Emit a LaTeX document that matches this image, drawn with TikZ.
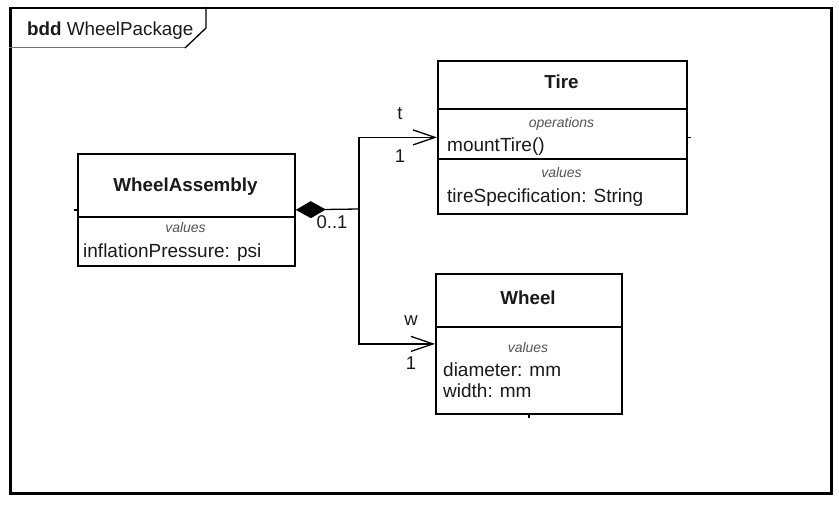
\documentclass[tikz,border=0pt]{standalone}
\usepackage{fontspec}
\setmainfont{Liberation Sans}
\usetikzlibrary{arrows.meta}
\definecolor{txt}{HTML}{1A1A1A}
\definecolor{stereo}{HTML}{555555}
\tikzset{
  blockbox/.style={draw=black, line width=1.8pt, fill=white, inner sep=0pt, anchor=north west},
  divline/.style={line width=1.6pt},
  titletext/.style={anchor=base, inner sep=0pt, text=txt, font=\fontsize{18.8}{22}\selectfont\bfseries},
  bodytext/.style={anchor=base west, inner sep=0pt, text=txt, font=\fontsize{19}{22}\selectfont},
  stereotext/.style={anchor=base, inner sep=0pt, text=stereo, font=\fontsize{14}{16}\selectfont\itshape},
  roletext/.style={anchor=base, inner sep=0pt, text=txt, font=\fontsize{18.5}{22}\selectfont},
  conn/.style={line width=1.3pt, draw=black},
  tick/.style={line width=1.5pt},
}
\begin{document}
\begin{tikzpicture}[x=1pt,y=-1pt]
\useasboundingbox (0,0) rectangle (839,505);
% frame
\node[draw=black, line width=2.5pt, inner sep=0pt, anchor=north west, minimum width=821pt, minimum height=485pt] (frame) at (9,7) {};
\coordinate (tabA) at (9,48);
\coordinate (tabB) at (185,48);
\coordinate (tabC) at (206,28);
\coordinate (tabD) at (206,7);
\draw[line width=1pt, draw=black!55] (tabA) -- (tabB);
\draw[line width=1.3pt] (tabB) -- (tabC) -- (tabD);
\node[anchor=base west, inner sep=0pt, text=txt, font=\fontsize{18.8}{22}\selectfont] (frametitle) at (27,36) {\textbf{bdd} WheelPackage};

% WheelAssembly
\node[blockbox, minimum width=217pt, minimum height=112pt] (wa) at (77,153) {};
\draw[divline] (77,217) -- (294,217);
\node[titletext] (watitle) at (185.5,192) {WheelAssembly};
\node[stereotext] (wavalues) at (185.5,233) {values};
\node[bodytext] (waattr) at (83,258) {inflationPressure: psi};
\draw[tick] (wa.west) -- ++(-3.5,0);

% Tire
\node[blockbox, minimum width=249pt, minimum height=153pt] (tire) at (437,60) {};
\draw[divline] (437,109) -- (686,109);
\draw[divline] (437,159) -- (686,159);
\node[titletext] (tiretitle) at (561.5,89) {Tire};
\node[stereotext] (tireops) at (561.5,128) {operations};
\node[bodytext] (tireop) at (447,152) {mountTire()};
\node[stereotext] (tirevalues) at (561.5,178) {values};
\node[bodytext] (tireattr) at (447,203) {tireSpecification: String};
\draw[tick] (tire.east) -- ++(3.5,0);

% Wheel
\node[blockbox, minimum width=186pt, minimum height=140pt] (wheel) at (435,273) {};
\draw[divline] (435,327) -- (621,327);
\node[titletext] (wheeltitle) at (528,305) {Wheel};
\node[stereotext] (wheelvalues) at (528,353) {values};
\node[bodytext] (wheelattr1) at (443,377) {diameter: mm};
\node[bodytext] (wheelattr2) at (443,398) {width: mm};
\draw[tick] (wheel.south) -- ++(0,3.5);

% connectors
\coordinate (j) at (359,209);
\draw[conn, {Diamond[length=30pt,width=17pt]}-] (wa.east) -- (j);
\draw[conn, -{Straight Barb[length=22pt,width=15pt,line width=1.3pt]}] (j) |- (tire.west);
\draw[conn, -{Straight Barb[length=22pt,width=15pt,line width=1.3pt]}] (j) |- (wheel.west);

% labels
\node[roletext] (lt) at (400,120) {t};
\node[roletext] (lt1) at (400,163) {1};
\node[roletext] (l01) at (332,229) {0..1};
\node[roletext] (lw) at (411,326) {w};
\node[roletext] (lw1) at (411,370) {1};
\end{tikzpicture}
\end{document}
